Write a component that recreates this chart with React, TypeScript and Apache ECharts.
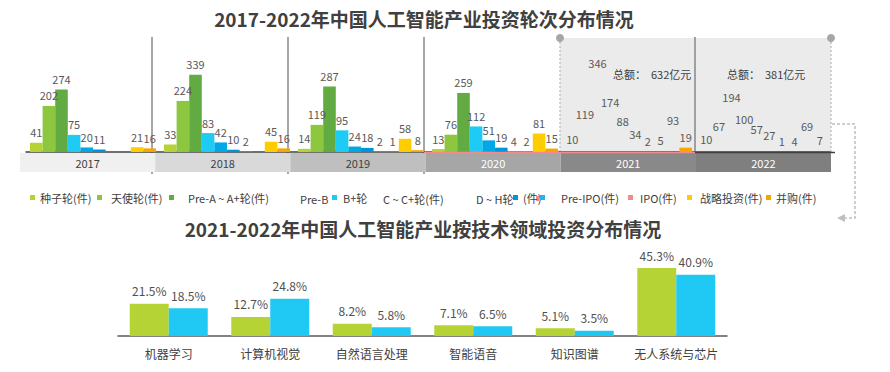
import React, { useEffect, useRef } from 'react';
import * as echarts from 'echarts';

// ---------- data: top chart (investment rounds, count of deals) ----------
const years = ['2017', '2018', '2019', '2020', '2021', '2022'];
const roundNames = [
  '种子轮(件)', '天使轮(件)', 'Pre-A ~ A+轮(件)', 'Pre-B ~ B+轮(件)', 'C ~ C+轮(件)',
  'D ~ H轮(件)', 'Pre-IPO(件)', 'IPO(件)', '战略投资(件)', '并购(件)',
];
const seed = [41, 33, 14, 13, 10, 10];
const angel = [202, 224, 119, 76, 119, 67];
const preA = [274, 339, 287, 259, 346, 194];
const preB = [75, 83, 95, 112, 174, 100];
const roundC = [20, 42, 24, 51, 88, 57];
const roundDH = [11, 10, 18, 19, 34, 27];
const preIPO: (number | null)[] = [null, 2, 2, 4, 2, 1];
const ipo: (number | null)[] = [null, null, 1, 2, 5, 4];
const strategic = [21, 45, 58, 81, 93, 69];
const merger = [16, 16, 8, 15, 19, 7];
const totalYears = ['2021', '2022'];
const totalAmounts = [632, 381];
const maskedYears = ['2021', '2022'];

// ---------- data: bottom chart (share by technology field, %) ----------
const fields = ['机器学习', '计算机视觉', '自然语言处理', '智能语音', '知识图谱', '无人系统与芯片'];
const share2021 = [21.5, 12.7, 8.2, 7.1, 5.1, 45.3];
const share2022 = [18.5, 24.8, 5.8, 6.5, 3.5, 40.9];

const FONT = '"Noto Sans CJK SC", "Noto Sans", sans-serif';
const roundColors = ['#b5d334', '#8dc63f', '#62ab43', '#1ecbf5', '#00a9e6', '#0095d9', '#29b2ea', '#f28b8b', '#ffcc00', '#f7a600'];
const bandColors = ['#f0f0f0', '#d9d9d9', '#bfbfbf', '#a6a6a6', '#898989', '#7f7f7f'];
const bandText = ['#404040', '#404040', '#404040', '#ffffff', '#ffffff', '#ffffff'];

const roundSeries = [seed, angel, preA, preB, roundC, roundDH, preIPO, ipo, strategic, merger];

export default function App() {
  const ref = useRef<HTMLDivElement>(null);
  useEffect(() => {
    if (!ref.current) return;
    const chart = echarts.init(ref.current, undefined, { renderer: 'svg' });

    const barSeries: any[] = roundSeries.map((vals, s) => ({
      name: roundNames[s],
      type: 'bar',
      xAxisIndex: 0,
      yAxisIndex: 0,
      barWidth: 12.6,
      barGap: '0%',
      itemStyle: { color: roundColors[s] },
      label: { show: true, position: 'top', distance: 5, fontSize: 11, color: '#595959', fontFamily: FONT },
      data: vals.map((v, i) => {
        if (v == null) return '-';
        const hidden = maskedYears.includes(years[i]) && !(s === 9 && years[i] === '2021');
        return hidden ? { value: v, itemStyle: { color: 'rgba(0,0,0,0)' } } : v;
      }),
    }));

    const legendItem = (name: string, left: number, pad: number, fmt?: string) => ({
      data: [name],
      left,
      top: 192,
      padding: 0,
      itemWidth: 5,
      itemHeight: 5,
      icon: 'rect',
      selectedMode: false,
      formatter: fmt ? () => fmt : undefined,
      textStyle: { fontSize: 11, color: '#404040', fontFamily: FONT, padding: [0, 0, 0, pad] },
    });

    const textEl = (text: string, x: number, y: number, extra: any = {}) => ({
      type: 'text',
      x,
      y,
      style: { text, fill: '#404040', fontSize: 11, fontFamily: FONT, textVerticalAlign: 'middle', ...extra },
    });

    const graphics: any[] = [
      textEl('2017-2022年中国人工智能产业投资轮次分布情况', 424, 18, { fontSize: 19, fontWeight: 'bold', textAlign: 'center' }),
      textEl('2021-2022年中国人工智能产业按技术领域投资分布情况', 423, 228, { fontSize: 19, fontWeight: 'bold', textAlign: 'center' }),
      { type: 'rect', shape: { x: 560, y: 38, width: 271, height: 114 }, style: { fill: '#ebebeb' }, z: -5 },
      { type: 'line', shape: { x1: 560, y1: 38, x2: 560, y2: 152 }, style: { stroke: '#c4c4c4', lineWidth: 1.5, lineDash: [2, 2] } },
      { type: 'line', shape: { x1: 831, y1: 38, x2: 831, y2: 152 }, style: { stroke: '#c4c4c4', lineWidth: 1.5, lineDash: [2, 2] } },
      { type: 'circle', shape: { cx: 560, cy: 38, r: 4 }, style: { fill: '#a6a6a6' } },
      { type: 'circle', shape: { cx: 831, cy: 38, r: 4 }, style: { fill: '#a6a6a6' } },
      ...[152, 288, 424].map((x) => ({ type: 'line', shape: { x1: x, y1: 37, x2: x, y2: 174 }, style: { stroke: '#a6a6a6', lineWidth: 2 } })),
      { type: 'line', shape: { x1: 695, y1: 37, x2: 695, y2: 172 }, style: { stroke: '#a0a0a0', lineWidth: 2 } },
      { type: 'line', shape: { x1: 424, y1: 152.5, x2: 695, y2: 152.5 }, style: { stroke: '#f28b8b', lineWidth: 1.5 }, z: 10 },
      { type: 'line', shape: { x1: 695, y1: 152.5, x2: 835, y2: 152.5 }, style: { stroke: '#404040', lineWidth: 1.5 }, z: 10 },
      ...totalYears.map((y, i) => textEl(`总额：  ${totalAmounts[i]}亿元`, i === 0 ? 613 : 727, 74)),
      textEl('Pre-B', 300, 198.5),
      textEl('C ~ C+轮(件)', 383, 198.5),
      textEl('D ~ H轮', 476, 198.5),
      { type: 'rect', shape: { x: 536, y: 196, width: 3, height: 5 }, style: { fill: '#f28b8b' } },
      {
        type: 'polyline',
        shape: { points: [[832, 124], [855, 124], [855, 218], [844, 218]] },
        style: { stroke: '#bfbfbf', lineWidth: 1.5, lineDash: [3, 2], fill: 'none' },
      },
      { type: 'polygon', shape: { points: [[837, 218], [845, 214], [845, 222]] }, style: { fill: '#bfbfbf' } },
    ];

    chart.setOption({
      animation: false,
      textStyle: { fontFamily: FONT },
      grid: [
        { left: 26, right: 60, top: 38, bottom: 220 },
        { left: 20, right: 59, top: 153, height: 19 },
        { left: 118, right: 163, top: 261, bottom: 36 },
      ],
      xAxis: [
        {
          gridIndex: 0, type: 'category', data: years,
          axisLine: { show: true, lineStyle: { color: '#404040', width: 1.5 } },
          axisTick: { show: false }, axisLabel: { show: false },
        },
        { gridIndex: 1, type: 'category', data: years, show: false },
        {
          gridIndex: 2, type: 'category', data: fields,
          axisLine: { show: true, lineStyle: { color: '#595959', width: 1.5 } },
          axisTick: { show: false },
          axisLabel: { fontSize: 12, color: '#404040', margin: 11, fontFamily: FONT, interval: 0 },
        },
      ],
      yAxis: [
        { gridIndex: 0, type: 'value', min: 0, max: 500, show: false },
        { gridIndex: 1, type: 'value', min: 0, max: 1, show: false },
        { gridIndex: 2, type: 'value', min: 0, max: 50, show: false },
      ],
      legend: [
        legendItem(roundNames[0], 30, 0, '种子轮(件)'),
        legendItem(roundNames[1], 97, 4, '天使轮(件)'),
        legendItem(roundNames[2], 169, 9, 'Pre-A ~ A+轮(件)'),
        legendItem(roundNames[3], 332, 1, 'B+轮'),
        legendItem(roundNames[5], 513, 0, '(件)'),
        legendItem(roundNames[6], 540, 11, 'Pre-IPO(件)'),
        legendItem(roundNames[7], 628, 2, 'IPO(件)'),
        legendItem(roundNames[8], 687, 3, '战略投资(件)'),
        legendItem(roundNames[9], 766, 0, '并购(件)'),
      ],
      series: [
        ...barSeries,
        {
          type: 'bar',
          xAxisIndex: 1,
          yAxisIndex: 1,
          barWidth: '100%',
          silent: true,
          data: years.map((y, i) => ({
            value: 1,
            itemStyle: { color: bandColors[i] },
            label: { color: bandText[i] },
          })),
          label: { show: true, position: 'inside', formatter: '{b}', fontSize: 11, fontFamily: FONT },
        },
        {
          name: '2021',
          type: 'bar',
          xAxisIndex: 2,
          yAxisIndex: 2,
          barWidth: 39,
          barGap: '0%',
          itemStyle: { color: '#b5d334' },
          label: { show: true, position: 'top', distance: 7, formatter: '{c}%', fontSize: 12, color: '#505050', fontFamily: FONT },
          data: share2021,
        },
        {
          name: '2022',
          type: 'bar',
          xAxisIndex: 2,
          yAxisIndex: 2,
          barWidth: 39,
          barGap: '0%',
          itemStyle: { color: '#1fc9f3' },
          label: { show: true, position: 'top', distance: 7, formatter: '{c}%', fontSize: 12, color: '#505050', fontFamily: FONT },
          data: share2022,
        },
      ],
      graphic: graphics,
    });

    return () => chart.dispose();
  }, []);

  return <div ref={ref} style={{ position: 'fixed', left: 0, top: 0, width: 890, height: 372, background: '#fff' }} />;
}
